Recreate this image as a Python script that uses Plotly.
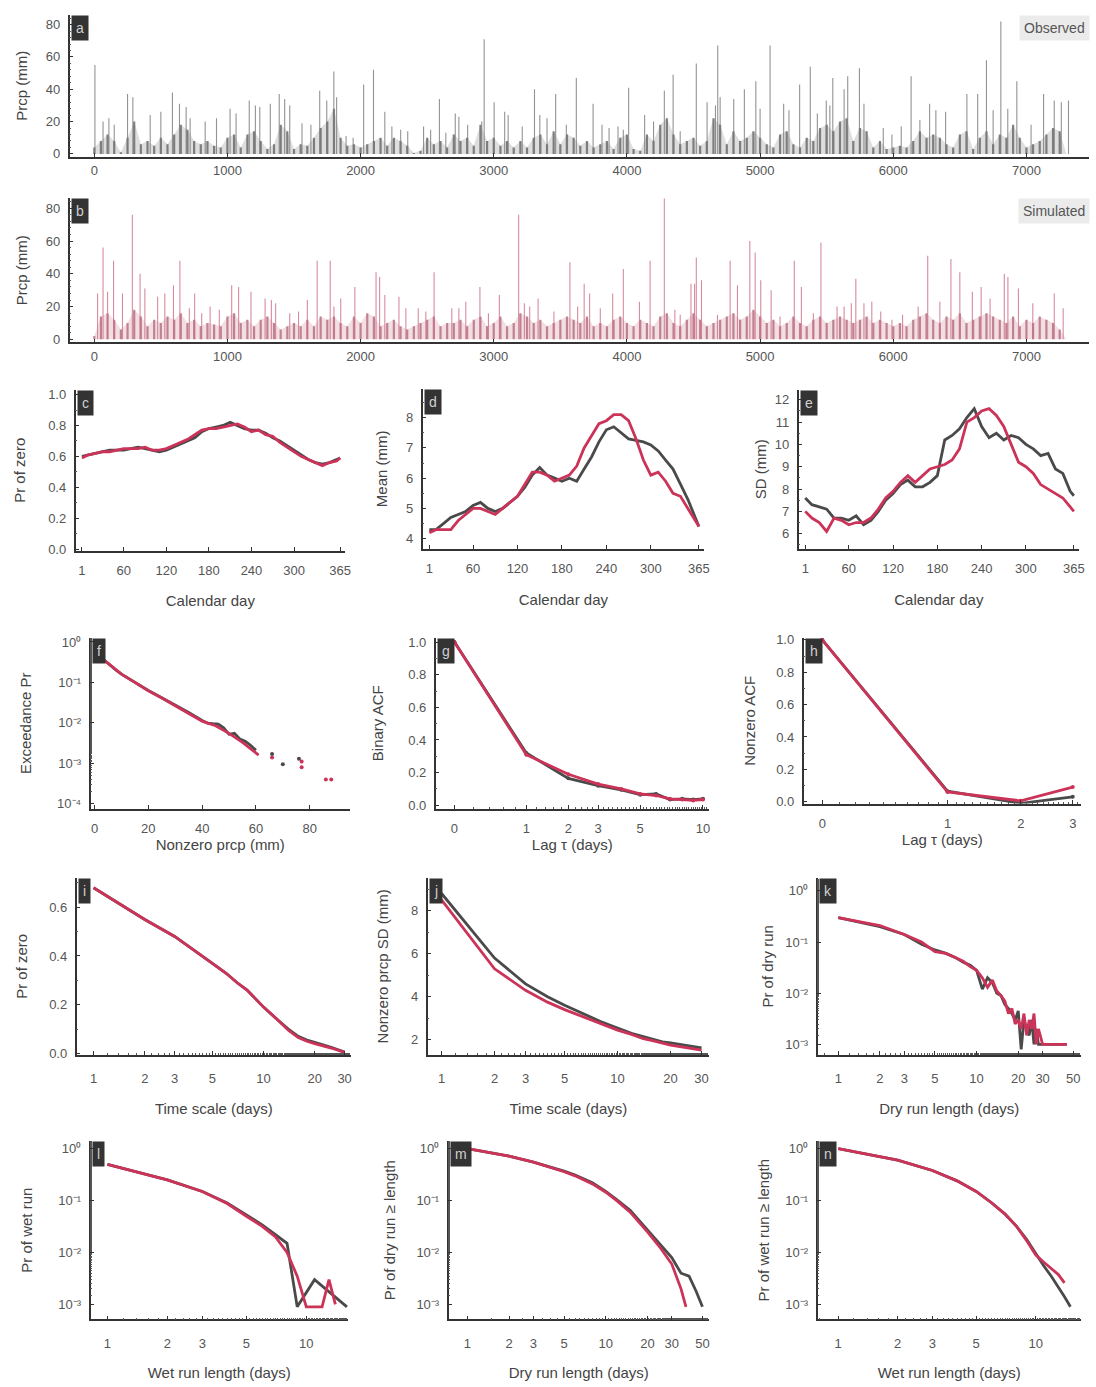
import plotly.graph_objects as go

W, H = 1096, 1387
OBS = "#4a4a4a"
SIM = "#cc3358"

# ---------------- data: daily series (a, b) ----------------
obs_peak_day = [5, 66, 110, 150, 250, 290, 420, 500, 587, 640,
                690, 720, 833, 918, 1020, 1065, 1164, 1210, 1243, 1322,
                1389, 1430, 1468, 1560, 1627, 1693, 1746, 1799, 1820, 1891,
                1944, 2023, 2097, 2182, 2235, 2301, 2354, 2473, 2526, 2592,
                2640, 2711, 2738, 2804, 2910, 2928, 3003, 3082, 3108, 3214,
                3306, 3346, 3400, 3465, 3545, 3620, 3746, 3813, 3866, 3933,
                3973, 4013, 4133, 4200, 4281, 4347, 4400, 4521, 4602, 4665,
                4682, 4700, 4802, 4882, 4968, 5000, 5075, 5177, 5217, 5297,
                5377, 5430, 5497, 5524, 5546, 5631, 5658, 5746, 5780, 5925,
                5990, 6060, 6134, 6200, 6273, 6320, 6393, 6553, 6634, 6700,
                6750, 6808, 6860, 6928, 7035, 7129, 7209, 7262, 7316]
obs_peak_val = [55, 20, 22, 18, 37, 35, 24, 26, 38, 31,
                29, 22, 20, 22, 28, 25, 33, 30, 29, 31,
                37, 34, 30, 19, 18, 39, 33, 51, 35, 11,
                10, 43, 52, 26, 17, 15, 14, 17, 15, 34,
                13, 25, 23, 18, 20, 71, 32, 26, 24, 17,
                40, 24, 22, 37, 18, 47, 31, 18, 16, 17,
                15, 41, 24, 20, 39, 49, 14, 56, 32, 30,
                67, 35, 34, 40, 45, 28, 67, 31, 27, 43,
                54, 25, 33, 30, 47, 40, 48, 53, 31, 16,
                12, 17, 48, 21, 31, 27, 26, 37, 37, 58,
                27, 82, 28, 45, 18, 37, 33, 32, 33]

sim_peak_day = [25, 66, 100, 145, 212, 286, 344, 380, 476, 530,
                595, 643, 714, 754, 807, 870, 939, 1032, 1084, 1177,
                1283, 1330, 1362, 1468, 1534, 1600, 1674, 1772, 1800, 1851,
                1957, 2116, 2143, 2182, 2288, 2340, 2433, 2490, 2552, 2685,
                2738, 2790, 2896, 2960, 3042, 3187, 3230, 3270, 3333, 3452,
                3572, 3630, 3679, 3720, 3800, 3893, 3973, 4094, 4174, 4281,
                4360, 4400, 4481, 4508, 4521, 4560, 4680, 4775, 4830, 4923,
                4963, 5005, 5083, 5150, 5257, 5310, 5400, 5457, 5578, 5631,
                5685, 5719, 5780, 5839, 5906, 5990, 6070, 6187, 6259, 6350,
                6433, 6500, 6594, 6660, 6727, 6834, 6861, 6940, 7048, 7209,
                7276]
sim_peak_val = [28, 56, 29, 48, 28, 76, 40, 31, 26, 28,
                33, 48, 19, 28, 16, 20, 18, 33, 32, 29,
                25, 24, 22, 16, 17, 24, 48, 48, 20, 25,
                32, 41, 38, 27, 26, 19, 19, 17, 41, 19,
                19, 23, 32, 16, 27, 76, 22, 20, 25, 17,
                47, 20, 34, 28, 19, 28, 43, 23, 48, 88,
                18, 15, 34, 34, 50, 36, 15, 48, 33, 60,
                53, 36, 30, 14, 48, 32, 16, 59, 20, 20,
                22, 37, 22, 23, 17, 12, 15, 20, 51, 23,
                49, 41, 29, 32, 25, 40, 38, 31, 22, 28,
                19]

bulk_day = list(range(0, 7301, 50))
obs_bulk = [4, 8, 12, 8, 1, 10, 20, 6, 8, 5,
            10, 6, 12, 18, 15, 8, 6, 8, 5, 4,
            10, 12, 4, 12, 14, 8, 3, 6, 18, 14,
            3, 6, 5, 10, 16, 20, 28, 10, 5, 6,
            4, 6, 8, 10, 5, 10, 8, 5, 0.5, 2,
            10, 6, 8, 4, 12, 8, 10, 5, 18, 8,
            10, 5, 8, 4, 8, 4, 10, 12, 6, 14,
            6, 12, 10, 5, 8, 4, 6, 8, 3, 10,
            12, 3, 2, 12, 8, 18, 22, 12, 6, 8,
            10, 5, 8, 22, 18, 6, 14, 8, 10, 14,
            10, 6, 4, 12, 14, 6, 4, 10, 8, 16,
            18, 14, 20, 22, 8, 16, 14, 4, 8, 3,
            4, 5, 4, 8, 14, 10, 12, 10, 6, 4,
            12, 14, 3, 10, 14, 6, 12, 10, 18, 10,
            4, 6, 8, 12, 16, 14, 0]
sim_bulk = [2, 14, 16, 12, 6, 10, 18, 14, 8, 12,
            10, 14, 12, 16, 10, 12, 8, 10, 9, 8,
            14, 16, 10, 12, 8, 12, 14, 10, 6, 8,
            10, 8, 12, 8, 14, 12, 14, 10, 8, 14,
            10, 16, 14, 8, 10, 12, 8, 6, 8, 10,
            12, 14, 8, 10, 10, 12, 8, 12, 14, 8,
            10, 14, 8, 10, 16, 14, 10, 12, 8, 10,
            12, 14, 12, 10, 14, 8, 10, 8, 12, 14,
            10, 8, 12, 10, 8, 14, 16, 10, 8, 12,
            16, 12, 8, 10, 12, 14, 16, 12, 14, 18,
            14, 10, 12, 8, 10, 14, 10, 8, 12, 14,
            10, 12, 14, 12, 10, 12, 14, 10, 12, 10,
            8, 10, 8, 12, 14, 16, 12, 10, 14, 12,
            16, 10, 12, 14, 16, 14, 12, 10, 14, 8,
            12, 10, 14, 12, 10, 6, 0]

# ---------------- data: seasonal stats (c, d, e) ----------------
cal_day = [1, 10, 20, 30, 40, 50, 60, 70, 80, 90, 100, 110, 120, 130, 140, 150,
           160, 170, 180, 190, 200, 210, 220, 230, 240, 250, 260, 270, 280, 290,
           300, 310, 320, 330, 340, 350, 360, 365]
pz_obs = [0.60, 0.61, 0.62, 0.63, 0.64, 0.64, 0.64, 0.65, 0.66, 0.65,
          0.64, 0.63, 0.64, 0.66, 0.68, 0.70, 0.72, 0.76, 0.78, 0.79,
          0.80, 0.82, 0.80, 0.78, 0.77, 0.77, 0.75, 0.72, 0.70, 0.67,
          0.64, 0.61, 0.58, 0.56, 0.55, 0.56, 0.58, 0.59]
pz_sim = [0.59, 0.61, 0.62, 0.63, 0.63, 0.64, 0.65, 0.65, 0.65, 0.66,
          0.64, 0.64, 0.65, 0.67, 0.69, 0.71, 0.74, 0.77, 0.78, 0.78,
          0.79, 0.80, 0.81, 0.79, 0.76, 0.77, 0.74, 0.73, 0.69, 0.66,
          0.63, 0.60, 0.58, 0.56, 0.54, 0.56, 0.57, 0.59]
mean_obs = [4.3, 4.3, 4.5, 4.7, 4.8, 4.9, 5.1, 5.2, 5.0, 4.9,
            5.0, 5.2, 5.4, 5.7, 6.1, 6.35, 6.1, 6.0, 5.9, 6.0,
            5.9, 6.3, 6.7, 7.2, 7.6, 7.7, 7.5, 7.3, 7.25, 7.2,
            7.1, 6.9, 6.6, 6.3, 5.8, 5.3, 4.7, 4.4]
mean_sim = [4.2, 4.3, 4.3, 4.3, 4.6, 4.8, 5.0, 5.0, 4.9, 4.8,
            5.0, 5.2, 5.4, 5.8, 6.2, 6.2, 6.1, 5.9, 6.0, 6.1,
            6.4, 7.0, 7.4, 7.8, 7.9, 8.1, 8.1, 7.9, 7.3, 6.6,
            6.1, 6.2, 5.9, 5.5, 5.4, 5.0, 4.6, 4.4]
sd_obs = [7.6, 7.3, 7.2, 7.1, 6.7, 6.7, 6.6, 6.8, 6.4, 6.6,
          7.0, 7.5, 7.8, 8.2, 8.4, 8.1, 8.1, 8.3, 8.6, 10.2,
          10.4, 10.7, 11.2, 11.6, 10.8, 10.3, 10.5, 10.2, 10.4, 10.3,
          10.0, 9.8, 9.5, 9.6, 8.9, 8.7, 7.9, 7.7]
sd_sim = [7.0, 6.7, 6.5, 6.1, 6.7, 6.6, 6.4, 6.5, 6.5, 6.7,
          7.1, 7.6, 7.9, 8.3, 8.6, 8.3, 8.6, 8.9, 9.0, 9.1,
          9.3, 9.8, 11.0, 11.2, 11.5, 11.6, 11.3, 10.8, 10.0, 9.2,
          9.0, 8.7, 8.2, 8.0, 7.8, 7.6, 7.2, 7.0]

# ---------------- data: f ----------------
exc_obs_x = [1, 3, 5, 8, 10, 15, 20, 25, 30, 35, 40, 42, 44, 46, 48, 50, 52, 54, 56, 58, 60]
exc_obs_y = [0.5, 0.38, 0.3, 0.2, 0.16, 0.1, 0.063, 0.042, 0.028, 0.018, 0.0115,
             0.0098, 0.0095, 0.0093, 0.0075, 0.0052, 0.0055, 0.004, 0.0035, 0.0028, 0.0021]
exc_sim_x = [1, 3, 5, 8, 10, 15, 20, 25, 30, 35, 40, 45, 50, 55, 61]
exc_sim_y = [0.5, 0.37, 0.3, 0.2, 0.16, 0.1, 0.062, 0.041, 0.027, 0.017, 0.011,
             0.0085, 0.0055, 0.0033, 0.0016]
tail_obs_x = [66, 70, 76]
tail_obs_y = [0.0017, 0.00095, 0.0013]
tail_sim_x = [66, 77, 77, 86, 88]
tail_sim_y = [0.0014, 0.0011, 0.0008, 0.0004, 0.0004]

# ---------------- data: g, h ----------------
lag_g = [0, 1, 2, 3, 4, 5, 6, 7, 8, 9, 10]
bacf_obs = [1.0, 0.32, 0.165, 0.12, 0.095, 0.065, 0.07, 0.035, 0.04, 0.035, 0.04]
bacf_sim = [1.0, 0.31, 0.19, 0.13, 0.10, 0.07, 0.06, 0.04, 0.035, 0.03, 0.035]
lag_h = [0, 1, 2, 3]
nacf_obs = [1.0, 0.065, -0.01, 0.03]
nacf_sim = [1.0, 0.06, 0.005, 0.09]

# ---------------- data: i, j ----------------
tscale = [1, 2, 3, 4, 5, 6, 7, 8, 10, 12, 14, 16, 18, 20, 25, 30]
pzs_obs = [0.68, 0.55, 0.48, 0.42, 0.37, 0.33, 0.29, 0.26, 0.19, 0.14, 0.1, 0.07, 0.055, 0.045, 0.025, 0.005]
pzs_sim = [0.68, 0.55, 0.48, 0.42, 0.37, 0.33, 0.29, 0.26, 0.19, 0.14, 0.095, 0.065, 0.05, 0.04, 0.022, 0.004]
sds_obs = [8.8, 5.8, 4.6, 4.0, 3.6, 3.3, 3.05, 2.85, 2.55, 2.3, 2.15, 2.0, 1.9, 1.85, 1.72, 1.62]
sds_sim = [8.5, 5.3, 4.3, 3.75, 3.4, 3.15, 2.95, 2.75, 2.45, 2.25, 2.05, 1.95, 1.85, 1.75, 1.62, 1.52]

# ---------------- data: k, l, m, n ----------------
dry_len = [1, 2, 3, 4, 5, 6, 7, 8, 9, 10, 11, 12, 13, 14, 15, 16, 17, 18, 19, 20,
           21, 22, 23, 24, 25, 26, 27, 28, 30, 32, 35, 40, 45]
dry_obs = [0.3, 0.2, 0.14, 0.09, 0.07, 0.06, 0.05, 0.04, 0.035, 0.028,
           0.012, 0.02, 0.016, 0.01, 0.009, 0.006, 0.005, 0.004, 0.003, 0.0045,
           0.0008, 0.003, 0.002, 0.0015, 0.003, 0.001, 0.002, 0.001,
           0.001, 0.001, 0.001, 0.001, 0.001]
dry_sim = [0.3, 0.21, 0.14, 0.1, 0.065, 0.06, 0.05, 0.042, 0.033, 0.028,
           0.02, 0.013, 0.018, 0.011, 0.009, 0.007, 0.004, 0.005, 0.0025, 0.003,
           0.002, 0.004, 0.0015, 0.003, 0.002, 0.004, 0.001, 0.002,
           0.001, 0.001, 0.001, 0.001, 0.001]
wet_obs_x = [1, 2, 3, 4, 5, 6, 7, 8, 9, 11, 16]
wet_obs_y = [0.5, 0.25, 0.15, 0.09, 0.053, 0.034, 0.022, 0.015, 0.0009, 0.003, 0.0009]
wet_sim_x = [1, 2, 3, 4, 5, 6, 7, 8, 9, 10, 11, 12, 13, 14]
wet_sim_y = [0.5, 0.25, 0.15, 0.088, 0.05, 0.032, 0.02, 0.01, 0.0035, 0.0009, 0.0009, 0.0009, 0.003, 0.001]
dryge_obs_x = [1, 2, 3, 4, 5, 6, 8, 10, 12, 15, 20, 25, 30, 35, 40, 45, 50]
dryge_obs_y = [1.0, 0.72, 0.55, 0.44, 0.37, 0.31, 0.22, 0.15, 0.105, 0.065, 0.027,
               0.014, 0.008, 0.004, 0.0035, 0.0018, 0.0009]
dryge_sim_x = [1, 2, 3, 4, 5, 6, 8, 10, 12, 15, 20, 25, 30, 35, 38]
dryge_sim_y = [1.0, 0.72, 0.55, 0.44, 0.36, 0.30, 0.21, 0.145, 0.10, 0.06, 0.025,
               0.012, 0.006, 0.002, 0.0009]
wetge_obs_x = [1, 2, 3, 4, 5, 6, 7, 8, 9, 10, 11, 12, 13, 14, 15]
wetge_obs_y = [1.0, 0.6, 0.38, 0.24, 0.15, 0.09, 0.055, 0.032, 0.018, 0.0095,
               0.0055, 0.0035, 0.0022, 0.0014, 0.0009]
wetge_sim_x = [1, 2, 3, 4, 5, 6, 7, 8, 9, 10, 11, 12, 13, 14]
wetge_sim_y = [1.0, 0.6, 0.38, 0.24, 0.15, 0.09, 0.055, 0.032, 0.017, 0.009,
               0.0065, 0.005, 0.0038, 0.0026]

# ---------------- figure ----------------
fig = go.Figure()
TICKF = dict(size=13, color="#555", family="Liberation Sans")
TITLEF = dict(size=15, color="#444", family="Liberation Sans")


def dom_x(l, r):
    return [l / W, r / W]


def dom_y(t, b):
    return [1 - b / H, 1 - t / H]


def set_axes(n, xd, yd, xr, yr, xtitle, ytitle, xtype="linear", ytype="linear",
             xtv=None, xtt=None, ytv=None, ytt=None, xstand=4, ystand=6,
             xlso=4, ylso=5, yminor=None):
    sfx = "" if n == 1 else str(n)
    base = dict(showline=True, linecolor="#333", linewidth=1.5, ticks="inside",
                ticklen=4, tickwidth=1.2, tickcolor="#333", tickfont=TICKF,
                showgrid=False, zeroline=False)
    xa = dict(base, domain=xd, range=xr, type=xtype, anchor="y" + sfx,
              tickmode="array", tickvals=xtv, ticktext=xtt, ticklabelstandoff=xlso)
    if xtitle:
        xa["title"] = dict(text=xtitle, font=TITLEF, standoff=xstand)
    if xtype == "log":
        xa["minor"] = dict(ticks="inside", ticklen=2, tickcolor="#555", showgrid=False)
    ya = dict(base, domain=yd, range=yr, type=ytype, anchor="x" + sfx,
              tickmode="array", tickvals=ytv, ticktext=ytt, ticklabelstandoff=ylso,
              title=dict(text=ytitle, font=TITLEF, standoff=ystand))
    if ytype == "log":
        ya["minor"] = dict(ticks="inside", ticklen=2, tickcolor="#555", showgrid=False)
    elif yminor:
        ya["minor"] = dict(ticks="inside", ticklen=2, tickcolor="#555", dtick=yminor, showgrid=False)
    fig.layout["xaxis" + sfx] = xa
    fig.layout["yaxis" + sfx] = ya


def spikes(days, vals):
    xs, ys = [], []
    for d, v in zip(days, vals):
        xs += [d, d, None]
        ys += [0, v, None]
    return xs, ys


def line(n, x, y, color, width=2.8, mode="lines", msize=4):
    sfx = "" if n == 1 else str(n)
    fig.add_trace(go.Scatter(x=x, y=y, mode=mode, line=dict(color=color, width=width),
                             marker=dict(color=color, size=msize),
                             xaxis="x" + sfx, yaxis="y" + sfx, showlegend=False,
                             hoverinfo="skip"))


def daily(n, bulk_vals, peak_days, peak_vals, fillc, bulkc, peakc):
    sfx = "" if n == 1 else str(n)
    fig.add_trace(go.Scatter(x=bulk_day, y=bulk_vals, mode="lines", fill="tozeroy",
                             line=dict(color="rgba(0,0,0,0)", width=0), fillcolor=fillc,
                             xaxis="x" + sfx, yaxis="y" + sfx, showlegend=False, hoverinfo="skip"))
    bx, by = spikes(bulk_day, bulk_vals)
    fig.add_trace(go.Scatter(x=bx, y=by, mode="lines", line=dict(color=bulkc, width=2.2),
                             xaxis="x" + sfx, yaxis="y" + sfx, showlegend=False, hoverinfo="skip"))
    px_, py_ = spikes(peak_days, peak_vals)
    fig.add_trace(go.Scatter(x=px_, y=py_, mode="lines", line=dict(color=peakc, width=1.1),
                             xaxis="x" + sfx, yaxis="y" + sfx, showlegend=False, hoverinfo="skip"))


log_ticks = [1, 0.1, 0.01, 0.001, 0.0001]
log_text = ["10⁰", "10⁻¹", "10⁻²", "10⁻³", "10⁻⁴"]
yr_ticks = [0, 1000, 2000, 3000, 4000, 5000, 6000, 7000]
cal_ticks = [1, 60, 120, 180, 240, 300, 365]

# a
set_axes(1, dom_x(70, 1095), dom_y(10, 153), [-185, 7470], [-1.8, 86], None, "Prcp (mm)",
         xtv=yr_ticks, ytv=[0, 20, 40, 60, 80], ystand=15, yminor=4, xlso=1)
daily(1, obs_bulk, obs_peak_day, obs_peak_val, "rgba(90,90,90,0.2)",
      "rgba(60,60,60,0.6)", "rgba(120,120,120,0.8)")
# b
set_axes(2, dom_x(70, 1095), dom_y(195, 340), [-185, 7470], [-1.8, 86], None, "Prcp (mm)",
         xtv=yr_ticks, ytv=[0, 20, 40, 60, 80], ystand=15, yminor=4, xlso=1)
daily(2, sim_bulk, sim_peak_day, sim_peak_val, "rgba(190,90,115,0.2)",
      "rgba(150,55,80,0.55)", "rgba(205,110,135,0.8)")

# c
set_axes(3, dom_x(76, 347), dom_y(388, 550), [-8, 372], [-0.01, 1.03], "Calendar day", "Pr of zero",
         xtv=cal_ticks, ytv=[0, 0.2, 0.4, 0.6, 0.8, 1.0],
         ytt=["0.0", "0.2", "0.4", "0.6", "0.8", "1.0"], xstand=19, xlso=7, ystand=19, yminor=0.1)
line(3, cal_day, pz_obs, OBS)
line(3, cal_day, pz_sim, SIM)
# d
set_axes(4, dom_x(425, 708), dom_y(387, 548), [-8, 372], [3.67, 8.95], "Calendar day", "Mean (mm)",
         xtv=cal_ticks, ytv=[4, 5, 6, 7, 8], xstand=19, xlso=7, ystand=15, yminor=0.5)
line(4, cal_day, mean_obs, OBS)
line(4, cal_day, mean_sim, SIM)
# e
set_axes(5, dom_x(803, 1085), dom_y(388, 548), [-8, 372], [5.33, 12.44], "Calendar day", "SD (mm)",
         xtv=cal_ticks, ytv=[6, 7, 8, 9, 10, 11, 12], xstand=19, xlso=7, ystand=5, yminor=0.5)
line(5, cal_day, sd_obs, OBS)
line(5, cal_day, sd_sim, SIM)

# f
set_axes(6, dom_x(91, 352), dom_y(638, 810), [-1.5, 95], [-4.12, 0.1], "Nonzero prcp (mm)", "Exceedance Pr",
         ytype="log", xtv=[0, 20, 40, 60, 80], ytv=log_ticks, ytt=log_text, xstand=3, xlso=7, ystand=22)
line(6, exc_obs_x, exc_obs_y, OBS)
line(6, exc_sim_x, exc_sim_y, SIM)
line(6, tail_obs_x, tail_obs_y, OBS, mode="markers", msize=4)
line(6, tail_sim_x, tail_sim_y, SIM, mode="markers", msize=4)
# g
set_axes(7, dom_x(438, 713), dom_y(638, 810), [-0.079, 1.067], [-0.02, 1.025], "Lag τ (days)", "Binary ACF",
         xtype="log", xtv=[1, 2, 3, 4, 6, 11], xtt=["0", "1", "2", "3", "5", "10"],
         ytv=[0, 0.2, 0.4, 0.6, 0.8, 1.0], ytt=["0.0", "0.2", "0.4", "0.6", "0.8", "1.0"],
         xstand=3, xlso=7, ystand=21, yminor=0.1)
line(7, [v + 1 for v in lag_g], bacf_obs, OBS, mode="lines+markers", msize=4)
line(7, [v + 1 for v in lag_g], bacf_sim, SIM, mode="lines+markers", msize=4)
# h
set_axes(8, dom_x(808, 1087), dom_y(638, 805), [-0.045, 0.622], [-0.012, 1.012], "Lag τ (days)", "Nonzero ACF",
         xtype="log", xtv=[1, 2, 3, 4], xtt=["0", "1", "2", "3"],
         ytv=[0, 0.2, 0.4, 0.6, 0.8, 1.0], ytt=["0.0", "0.2", "0.4", "0.6", "0.8", "1.0"],
         xstand=3, xlso=7, ystand=17, yminor=0.1)
line(8, [v + 1 for v in lag_h], nacf_obs, OBS, mode="lines+markers", msize=4)
line(8, [v + 1 for v in lag_h], nacf_sim, SIM, mode="lines+markers", msize=4)

# i
set_axes(9, dom_x(77, 353), dom_y(880, 1058), [-0.1, 1.515], [-0.005, 0.72], "Time scale (days)", "Pr of zero",
         xtype="log", xtv=[1, 2, 3, 5, 10, 20, 30], ytv=[0, 0.2, 0.4, 0.6],
         ytt=["0.0", "0.2", "0.4", "0.6"], xstand=19, xlso=11, ystand=18, yminor=0.1)
line(9, tscale, pzs_obs, OBS)
line(9, tscale, pzs_sim, SIM)
# j
set_axes(10, dom_x(430, 713), dom_y(880, 1058), [-0.079, 1.52], [1.31, 9.52], "Time scale (days)",
         "Nonzero prcp SD (mm)", xtype="log", xtv=[1, 2, 3, 5, 10, 20, 30], ytv=[2, 4, 6, 8],
         xstand=19, xlso=11, ystand=19, yminor=1)
line(10, tscale, sds_obs, OBS)
line(10, tscale, sds_sim, SIM)
# k
set_axes(11, dom_x(822, 1087), dom_y(880, 1058), [-0.15, 1.755], [-3.2, 0.25], "Dry run length (days)",
         "Pr of dry run", xtype="log", ytype="log", xtv=[1, 2, 3, 5, 10, 20, 30, 50],
         ytv=log_ticks[:4], ytt=log_text[:4], xstand=19, xlso=11, ystand=8)
line(11, dry_len, dry_obs, OBS)
line(11, dry_len, dry_sim, SIM)

# l
set_axes(12, dom_x(91, 350), dom_y(1145, 1325), [-0.085, 1.21], [-3.29, 0.15], "Wet run length (days)",
         "Pr of wet run", xtype="log", ytype="log", xtv=[1, 2, 3, 5, 10],
         ytv=log_ticks[:4], ytt=log_text[:4], xstand=18, xlso=11, ystand=22)
line(12, wet_obs_x, wet_obs_y, OBS)
line(12, wet_sim_x, wet_sim_y, SIM)
# m
set_axes(13, dom_x(451, 713), dom_y(1145, 1325), [-0.137, 1.747], [-3.29, 0.15], "Dry run length (days)",
         "Pr of dry run ≥ length", xtype="log", ytype="log", xtv=[1, 2, 3, 5, 10, 20, 30, 50],
         ytv=log_ticks[:4], ytt=log_text[:4], xstand=18, xlso=11, ystand=17)
line(13, dryge_obs_x, dryge_obs_y, OBS)
line(13, dryge_sim_x, dryge_sim_y, SIM)
# n
set_axes(14, dom_x(822, 1087), dom_y(1145, 1325), [-0.105, 1.23], [-3.29, 0.15], "Wet run length (days)",
         "Pr of wet run ≥ length", xtype="log", ytype="log", xtv=[1, 2, 3, 5, 10],
         ytv=log_ticks[:4], ytt=log_text[:4], xstand=18, xlso=11, ystand=12)
line(14, wetge_obs_x, wetge_obs_y, OBS)
line(14, wetge_sim_x, wetge_sim_y, SIM)

# panel letters
letters = [("a", 70, 10), ("b", 70, 195), ("c", 76, 388), ("d", 425, 387), ("e", 803, 388),
           ("f", 91, 638), ("g", 438, 638), ("h", 808, 638), ("i", 77, 880), ("j", 430, 880),
           ("k", 822, 880), ("l", 91, 1145), ("m", 451, 1145), ("n", 822, 1145)]
anns = []
for t, xl, yt in letters:
    anns.append(dict(text=t, x=xl / W + 0.001, y=1 - yt / H, xref="paper", yref="paper",
                     xanchor="left", yanchor="top", showarrow=False,
                     font=dict(size=14, color="#d0d0d0", family="Liberation Sans"),
                     bgcolor="#333333", borderpad=4))
for t, yt in [("Observed", 10), ("Simulated", 195)]:
    anns.append(dict(text=t, x=1.0, y=1 - yt / H, xref="paper", yref="paper",
                     xanchor="right", yanchor="top", showarrow=False,
                     font=dict(size=14, color="#555", family="Liberation Sans"),
                     bgcolor="#ebebeb", borderpad=4))

fig.update_layout(width=W, height=H, margin=dict(l=0, r=0, t=0, b=0),
                  paper_bgcolor="white", plot_bgcolor="white", annotations=anns,
                  font=dict(family="Liberation Sans"))
fig.write_html("out.html")
